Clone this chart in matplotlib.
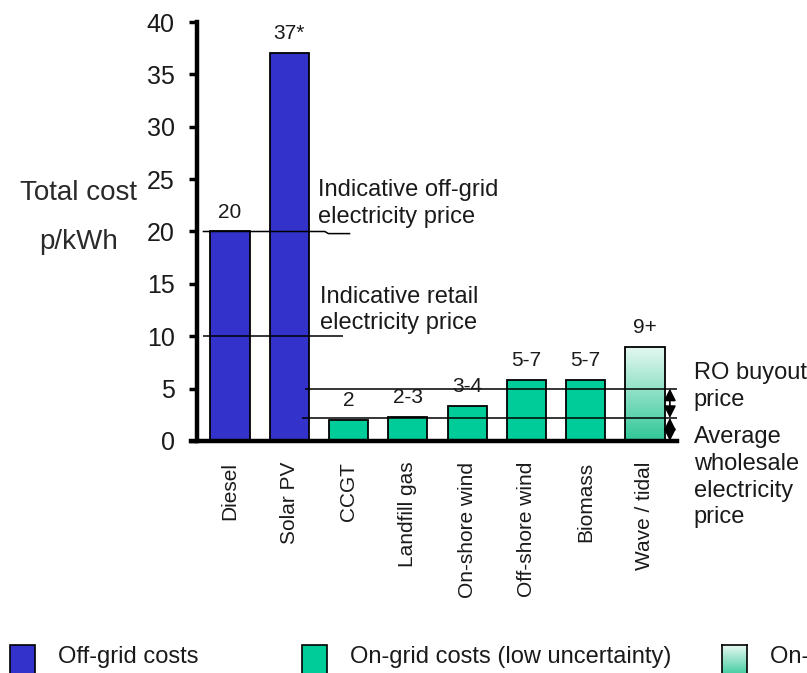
import matplotlib
matplotlib.use("Agg")
import matplotlib.pyplot as plt
import numpy as np
from matplotlib.colors import LinearSegmentedColormap
from matplotlib.patches import Rectangle

plt.rcParams["font.family"] = ["Liberation Sans", "DejaVu Sans"]

# Generation cost data (p/kWh)
technologies = ["Diesel", "Solar PV", "CCGT", "Landfill gas", "On-shore wind",
                "Off-shore wind", "Biomass", "Wave / tidal"]
costs = [20, 37, 2, 2.3, 3.3, 5.8, 5.8, 9]
cost_labels = ["20", "37*", "2", "2-3", "3-4", "5-7", "5-7", "9+"]
groups = ["off", "off", "low", "low", "low", "low", "low", "high"]

off_grid_price = 20
retail_price = 10
ro_buyout_price = 5
wholesale_price = 2.2
y_ticks = [0, 5, 10, 15, 20, 25, 30, 35, 40]

BLUE = "#3333CC"
GREEN = "#00CC99"
TXT = "#1a1a1a"
grad_cmap = LinearSegmentedColormap.from_list("grad", ["#E6F8F2", "#2FC796"])

W, H = 807, 673
fig = plt.figure(figsize=(W / 100, H / 100), dpi=100)
ax = fig.add_axes([197 / W, 232 / H, 480 / W, 419 / H])

x = np.arange(len(technologies))
colors = [BLUE if g == "off" else GREEN if g == "low" else "none" for g in groups]
bars = ax.bar(x, costs, width=0.66, color=colors, edgecolor="black",
              linewidth=1.3, zorder=2)

# gradient fill for the high-uncertainty bar (light at top, darker at base)
grad = np.linspace(0, 1, 256).reshape(-1, 1)
for b, g in zip(bars, groups):
    if g == "high":
        x0, w, h = b.get_x(), b.get_width(), b.get_height()
        im = ax.imshow(grad, cmap=grad_cmap, aspect="auto",
                       extent=[x0, x0 + w, 0, h], zorder=1.5, origin="upper")
        im.set_clip_path(b)

ax.set_xlim(-0.556, 7.54)
ax.set_ylim(0, 40)

# value labels
for b, lab in zip(bars, cost_labels):
    ax.annotate(lab, (b.get_x() + b.get_width() / 2, b.get_height()),
                xytext=(0, 14), textcoords="offset points", ha="center",
                va="center", fontsize=15, color=TXT, zorder=5)

# price reference lines
lk = dict(color="black", linewidth=1.1, zorder=4, solid_capstyle="butt")
ax.plot([-0.46, 1.6, 1.66, 2.03], [off_grid_price, off_grid_price,
        off_grid_price - 0.2, off_grid_price - 0.2], **lk)
ax.plot([-0.46, 1.9], [retail_price, retail_price], **lk)
ax.plot([1.26, 7.54], [ro_buyout_price, ro_buyout_price], **lk)
ax.plot([1.21, 7.54], [wholesale_price, wholesale_price], **lk)

LS = 1.27
ax.text(1.48, 22.7, "Indicative off-grid\nelectricity price", fontsize=17,
        ha="left", va="center", linespacing=LS, color=TXT)
ax.text(1.52, 12.5, "Indicative retail\nelectricity price", fontsize=17,
        ha="left", va="center", linespacing=LS, color=TXT)

# double arrows between price levels
ax_x = 7.42
arrow = dict(arrowstyle="<|-|>", color="black", lw=1.2,
             mutation_scale=18, shrinkA=0, shrinkB=0)
ax.annotate("", xy=(ax_x, ro_buyout_price), xytext=(ax_x, wholesale_price),
            arrowprops=arrow, zorder=6, annotation_clip=False)
ax.annotate("", xy=(ax_x, wholesale_price), xytext=(ax_x, 0),
            arrowprops=arrow, zorder=6, annotation_clip=False)

ax.text(7.82, 5.2, "RO buyout\nprice", fontsize=17, ha="left", va="center",
        linespacing=LS, clip_on=False, color=TXT)
ax.text(7.82, 1.4, "Average\nwholesale\nelectricity\nprice", fontsize=17,
        ha="left", va="top", linespacing=LS, clip_on=False, color=TXT)

# axes styling
for s in ["top", "right"]:
    ax.spines[s].set_visible(False)
ax.spines["left"].set_linewidth(3.2)
ax.spines["bottom"].set_linewidth(3.2)
ax.spines["bottom"].set_bounds(-0.65, 7.54)
ax.set_yticks(y_ticks)
ax.set_yticklabels([str(t) for t in y_ticks], fontsize=18, color=TXT)
ax.tick_params(axis="y", length=6, width=2.5, pad=10, direction="out")
ax.set_xticks(x)
ax.set_xticklabels(technologies, rotation=90, fontsize=15, va="top",
                   ha="center", color=TXT)
ax.tick_params(axis="x", length=0, pad=15)

# y axis title
fig.text(78 / W, 1 - 193 / H, "Total cost", fontsize=20, ha="center",
         va="center", color="#2a2a2a")
fig.text(79 / W, 1 - 242 / H, "p/kWh", fontsize=20, ha="center",
         va="center", color="#2a2a2a")

# legend along the bottom edge
legend_items = [(10, BLUE, "Off-grid costs"),
                (302, GREEN, "On-grid costs (low uncertainty)"),
                (722, None, "On-grid costs (high uncertainty)")]
for px, col, txt in legend_items:
    if col is not None:
        fig.patches.append(Rectangle((px / W, -5 / H), 25 / W, 33 / H,
                                     transform=fig.transFigure, facecolor=col,
                                     edgecolor="black", linewidth=1.2))
    else:
        lax = fig.add_axes([px / W, -5 / H, 25 / W, 33 / H])
        lax.imshow(grad, cmap=grad_cmap, aspect="auto")
        for s in lax.spines.values():
            s.set_linewidth(1.2)
        lax.set_xticks([])
        lax.set_yticks([])
    fig.text((px + 48) / W, 1 - 657 / H, txt, fontsize=17,
             ha="left", va="center", color=TXT)

fig.savefig("out.png", dpi=100)
